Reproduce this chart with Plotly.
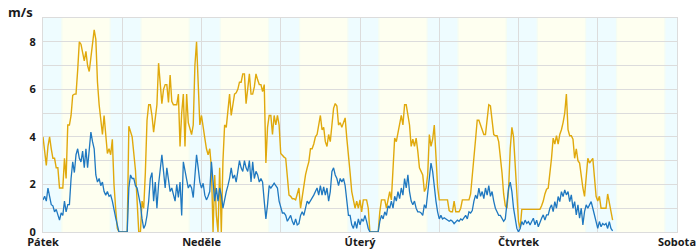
import plotly.graph_objects as go

# half-hourly samples starting Friday 00:00 (hours)
gust = [
    4.0, 3.3, 2.8, 3.6, 4.0, 3.5, 3.1, 3.1, 2.7, 2.7,
    1.85, 1.85, 1.85, 3.1, 2.25, 4.5, 4.5, 4.9, 5.75, 5.8,
    5.8, 6.8, 8.0, 7.9, 7.6, 7.2, 7.6, 7.0, 6.75, 7.3,
    8.0, 8.5, 8.1, 6.3, 5.35, 4.7, 4.1, 4.9, 4.1, 3.3,
    3.5, 3.25, 3.9, 2.0, 1.0, 0.15, 0, 0,
    0, 0, 0, 0, 4.45, 4.2, 4.0, 3.3, 2.6, 1.3,
    0, 0, 1.3, 1.0, 2.5, 4.7, 5.35, 5.35, 4.9, 4.2,
    4.9, 5.35, 7.1, 6.4, 5.4, 6.0, 6.2, 6.2, 5.45, 6.6,
    5.5, 5.35, 5.35, 5.35, 5.8, 3.6, 5.0, 5.8, 3.6, 5.8,
    4.6, 4.35, 4.1, 4.5, 7.0, 8.0, 6.0, 4.5,
    4.9, 4.5, 3.95, 3.5, 3.25, 3.5, 2.7, 0, 2.4, 0.7,
    0, 2.7, 0, 3.0, 4.5, 4.4, 5.0, 5.8, 4.9, 5.45,
    5.8, 5.85, 6.0, 6.3, 6.3, 6.65, 6.65, 5.4, 6.0, 6.65,
    5.8, 5.8, 6.1, 6.65, 6.4, 6.2, 6.2, 5.9, 6.2, 2.9,
    4.4, 4.9, 4.9, 4.1, 4.9, 4.5, 4.9, 4.5,
    3.3, 3.2, 3.15, 3.1, 2.3, 1.55, 1.5, 1.4, 1.4, 1.35,
    1.6, 1.85, 1.0, 1.5, 1.9, 2.4, 2.7, 2.95, 3.5, 3.5,
    3.7, 4.0, 4.1, 4.5, 4.9, 4.3, 4.4, 3.8, 3.6, 4.1,
    3.8, 4.5, 5.2, 5.4, 5.3, 4.5, 4.6, 4.4, 4.6, 4.8,
    3.95, 3.3, 2.5, 1.7, 1.3, 1.0, 1.3, 1.0,
    1.35, 0.85, 1.35, 1.35, 1.35, 1.0, 0, 0, 0, 0,
    0, 0, 0.85, 1.35, 1.35, 1.35, 1.0, 1.3, 1.7, 1.35,
    2.7, 3.95, 3.8, 4.2, 4.5, 4.9, 4.5, 5.35, 5.35, 4.9,
    4.5, 3.6, 3.9, 3.6, 3.95, 3.4, 2.7, 2.55, 2.4, 1.7,
    1.85, 2.4, 4.1, 3.6, 3.9, 4.5, 3.3, 1.9,
    1.35, 1.35, 1.35, 1.35, 1.35, 1.35, 0.9, 0.85, 0.85, 1.3,
    0.85, 0.85, 0.85, 1.0, 1.35, 1.35, 1.35, 1.35, 1.35, 1.6,
    2.5, 3.2, 3.9, 4.7, 4.7, 4.5, 4.3, 4.1, 4.1, 4.9,
    5.35, 5.3, 4.7, 4.1, 4.05, 4.05, 3.8, 3.2, 2.5, 1.6,
    1.1, 1.0, 1.8, 3.5, 4.4, 4.0, 2.8, 1.3,
    0.45, 0.15, 0.95, 0.95, 0.95, 0.95, 0.95, 0.95, 0.95, 0.95,
    0.95, 0.95, 0.95, 0.95, 1.1, 1.3, 1.6, 1.8, 1.85, 2.4,
    3.1, 3.95, 3.7, 4.05, 3.7, 4.1, 4.3, 4.6, 5.0, 5.8,
    4.3, 4.05, 4.05, 3.9, 3.1, 3.5, 3.0, 2.9, 2.3, 1.85,
    1.5, 2.5, 3.1, 2.9, 3.0, 3.1, 2.3, 1.5, 1.3, 1.5,
    1.0, 1.0, 1.0, 1.0, 1.6, 1.2, 0.9, 0.5,
]

wind = [
    1.35, 1.5, 1.3, 1.85, 1.5, 1.15, 1.1, 0.85, 0.95, 0.7,
    0.5, 0.8, 0.7, 1.3, 0.85, 1.15, 1.15, 2.25, 2.95, 2.5,
    3.25, 3.5, 3.1, 2.95, 3.4, 2.7, 3.5, 2.7, 3.65, 4.2,
    3.8, 3.5, 2.4, 2.1, 2.25, 1.95, 2.1, 1.7, 1.55, 1.7,
    1.5, 1.55, 1.3, 0.9, 0.6, 0.3, 0, 0, 0, 0,
    0, 0, 1.85, 2.4, 2.25, 2.25, 1.95, 1.85, 1.5, 1.15,
    0.55, 0.15, 0.3, 0.7, 1.3, 2.25, 2.5, 1.3, 2.1, 1.0,
    2.0, 2.7, 3.25, 2.55, 1.85, 2.7, 2.1, 1.7, 1.85, 1.55,
    1.3, 2.0, 1.45, 2.1, 0.7, 2.95, 2.55, 2.25, 1.85, 2.0,
    1.85, 1.45, 2.55, 3.25, 2.7, 2.1,
    1.85, 2.05, 1.55, 1.35, 1.5, 1.7, 2.95, 2.1, 1.3, 1.85,
    1.3, 1.85, 1.55, 1.0, 1.4, 1.7, 1.95, 2.25, 2.7, 2.25,
    2.4, 2.1, 2.55, 3.0, 2.7, 2.55, 3.0, 2.7, 2.55, 3.0,
    2.1, 2.95, 2.25, 2.55, 2.4, 2.1, 2.25, 2.1, 1.3, 0.55,
    1.15, 1.95, 1.85, 1.95, 2.05, 1.95, 1.85, 1.3, 1.0, 0.8,
    0.8, 0.7, 0.45, 0.55, 0.7, 0.45, 0.3, 0.55, 0.3, 0.35,
    0.7, 0.85, 0.7, 1.0, 1.3, 1.2, 1.3, 1.4, 1.55, 1.7,
    1.85, 1.55, 1.95, 1.55, 1.9, 1.55, 1.85, 1.3, 1.7, 2.55,
    2.7, 2.4, 2.25, 1.95, 2.25, 2.1, 2.25, 1.95, 1.4, 0.7,
    0.7, 0.3, 0.15, 0.45, 0.15, 0.55,
    0.3, 0.55, 0.45, 0.7, 0.45, 0.15, 0, 0, 0, 0,
    0, 0, 0.45, 0.7, 0.55, 0.85, 0.7, 1.1, 1.0, 1.3,
    1.0, 1.5, 1.3, 1.7, 1.4, 1.85, 1.55, 2.25, 1.85, 2.4,
    1.7, 1.3, 1.15, 1.3, 1.0, 0.85, 0.85, 0.8, 0.7, 1.15,
    1.0, 1.55, 2.25, 2.9, 2.55, 1.85, 1.3, 0.85, 0.55, 0.7,
    0.55, 0.6, 0.55, 0.5, 0.45, 0.5, 0.45, 0.35, 0.45, 0.5,
    0.45, 0.55, 0.5, 0.6, 0.7, 0.55, 0.85, 0.8, 0.9, 1.3,
    1.55, 1.4, 1.85, 1.5, 1.7, 1.4, 1.85, 1.55, 1.95, 1.5,
    1.7, 1.3, 1.0, 0.85, 0.7, 0.7, 0.55, 0.45, 0.55, 1.3,
    1.85, 2.1, 1.7, 1.0, 0.45, 0.15,
    0, 0.15, 0.44, 0.3, 0.5, 0.36, 0.44, 0.3, 0.44, 0.58,
    0.3, 0.5, 0.22, 0.44, 0.58, 0.72, 0.5, 0.72, 0.72, 1.0,
    1.14, 0.86, 1.28, 1.0, 1.49, 1.28, 1.7, 1.49, 1.77, 1.56,
    1.7, 1.28, 1.56, 1.0, 1.28, 0.72, 1.14, 0.58, 1.0, 0.3,
    0.86, 1.14, 1.0, 1.14, 1.28, 1.0, 0.72, 0.44, 0.15, 0.44,
    0.22, 0.36, 0.3, 0.36, 0.15, 0.44, 0.15, 0.05,
]

day_labels = ["Pátek", "Neděle", "Úterý", "Čtvrtek", "Sobota"]
day_label_hours = [0, 48, 96, 144, 192]
y_ticks = [0, 2, 4, 6, 8]
n_days = 8
sunrise = 5.9
sunset = 20.1

t = [i * 0.5 for i in range(len(gust))]

NIGHT = "#eefcff"
DAY = "#fefff0"
TWI = "#f5fdf3"

shapes = []
shapes.append(dict(type="rect", xref="x", yref="paper", x0=0, x1=24 * n_days,
                   y0=0, y1=1, fillcolor=NIGHT, line_width=0, layer="below"))
for d in range(n_days):
    base = d * 24
    shapes.append(dict(type="rect", xref="x", yref="paper", x0=base + sunrise - 0.4,
                       x1=base + sunset + 0.4, y0=0, y1=1, fillcolor=TWI,
                       line_width=0, layer="below"))
    shapes.append(dict(type="rect", xref="x", yref="paper", x0=base + sunrise,
                       x1=base + sunset, y0=0, y1=1, fillcolor=DAY,
                       line_width=0, layer="below"))

fig = go.Figure()
fig.add_trace(go.Scatter(x=t, y=gust, mode="lines",
                         line=dict(color="#e0a90c", width=1.4), hoverinfo="skip"))
fig.add_trace(go.Scatter(x=t, y=wind, mode="lines",
                         line=dict(color="#1f78c0", width=1.3), hoverinfo="skip"))

tickfont = dict(family="Open Sans", size=11, color="#1a1a1a", weight="bold")
grid = "#dcdcdc"

fig.update_layout(
    width=700, height=250,
    margin=dict(l=43, r=23, t=18, b=18, autoexpand=False),
    paper_bgcolor="white", plot_bgcolor="white",
    showlegend=False,
    shapes=shapes,
    xaxis=dict(range=[0, 24 * n_days], tickvals=day_label_hours, ticktext=day_labels,
               showgrid=True, gridcolor=grid, gridwidth=1.2,
               minor=dict(dtick=24, tick0=0, showgrid=True, gridcolor=grid, gridwidth=1.2),
               showline=True, linecolor=grid, linewidth=1.2, mirror=True,
               zeroline=False, ticks="", tickfont=tickfont, ticklabelstandoff=0,
               automargin=False, fixedrange=True),
    yaxis=dict(range=[0, 9], tickvals=y_ticks,
               showgrid=True, gridcolor=grid, gridwidth=1.2,
               minor=dict(dtick=1, tick0=0, showgrid=True, gridcolor=grid, gridwidth=1.2),
               showline=True, linecolor=grid, linewidth=1.2, mirror=True,
               zeroline=False, ticks="", tickfont=tickfont, ticklabelstandoff=4,
               automargin=False, fixedrange=True),
    annotations=[dict(text="m/s", xref="paper", yref="paper", x=-0.035, y=1.03,
                      xanchor="center", yanchor="middle", showarrow=False,
                      font=dict(family="Open Sans", size=13, color="#1a1a1a", weight="bold"))],
)

fig.write_html("out.html")
